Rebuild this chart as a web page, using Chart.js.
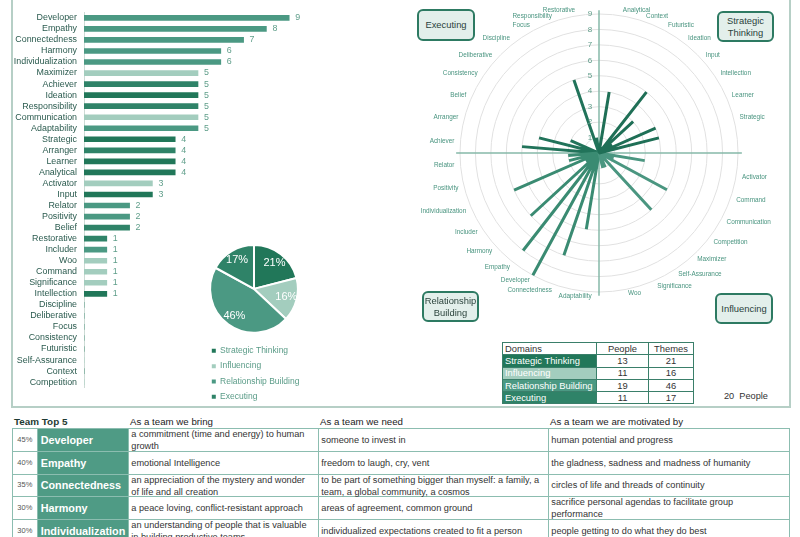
<!DOCTYPE html>
<html><head><meta charset="utf-8">
<script src="https://cdn.jsdelivr.net/npm/chart.js@4"></script>
<style>
body{margin:0;width:800px;height:537px;overflow:hidden;background:#fff;font-family:"Liberation Sans",Arial,sans-serif;position:relative;}
.abs{position:absolute;}
#frame{position:absolute;left:11px;top:-4px;width:780px;height:412px;border:2px solid #b6cfc6;box-sizing:border-box;}
.dbox{position:absolute;border:2px solid #2d7a62;border-radius:6px;background:#e3efeb;display:flex;align-items:center;justify-content:center;text-align:center;font-size:9.4px;color:#2a423b;line-height:11.5px;box-sizing:border-box;}
#dtab{position:absolute;left:502px;top:342px;border-collapse:collapse;font-size:9.4px;color:#333;}
#dtab td{border:1px solid #3a7f6a;height:11.3px;padding:0 2px;line-height:10px;white-space:nowrap;}
#dtab td.num{text-align:center;}
#team{position:absolute;left:12px;top:428px;border-collapse:collapse;table-layout:fixed;width:778px;}
#team td{border:1.5px solid #8cbdb0;padding:0 2px;font-size:9.2px;line-height:12px;color:#333;white-space:pre-line;vertical-align:middle;}
#team td .in{height:21.8px;display:flex;flex-direction:column;justify-content:center;overflow:visible;}
#team td.pct{font-size:7.5px;color:#555;text-align:center;padding:0;}
#team td.pct .in{align-items:center;}
#team td.nm{background:#4f9b85;color:#fff;font-weight:bold;font-size:10.8px;padding-left:3px;white-space:nowrap;}
.hdr{position:absolute;top:416px;font-size:9.7px;color:#222;line-height:11px;}
</style>
</head><body>
<div id="frame"></div>
<canvas id="bars" class="abs" style="left:0;top:0" width="320" height="400"></canvas>
<canvas id="pie" class="abs" style="left:200px;top:236px" width="110" height="175"></canvas>
<canvas id="radar" class="abs" style="left:420px;top:0" width="370" height="330"></canvas>
<div class="dbox" style="left:417px;top:9px;width:58px;height:32px">Executing</div>
<div class="dbox" style="left:717px;top:11px;width:57px;height:31px">Strategic<br>Thinking</div>
<div class="dbox" style="left:422px;top:291px;width:57px;height:31px">Relationship<br>Building</div>
<div class="dbox" style="left:715px;top:293px;width:58px;height:31px">Influencing</div>
<table id="dtab"></table>
<div id="people" class="abs" style="left:724px;top:391px;font-size:9.2px;color:#333;line-height:11px"></div>
<div class="hdr" style="left:14px;font-weight:bold;color:#1e3a32;font-size:9.9px">Team Top 5</div>
<div class="hdr" style="left:130px">As a team we bring</div>
<div class="hdr" style="left:320px">As a team we need</div>
<div class="hdr" style="left:550px">As a team we are motivated by</div>
<table id="team"><colgroup><col style="width:24.7px"><col style="width:91.6px"><col style="width:190px"><col style="width:230px"><col></colgroup><tbody id="teamBody"></tbody></table>
<script>
// ---- data ----
const domains = ['Strategic Thinking', 'Influencing', 'Relationship Building', 'Executing'];
const domainPeople = [13, 11, 19, 11];
const domainThemes = [21, 16, 46, 17];
const teamSize = 20;

const stThemes = ['Analytical', 'Context', 'Futuristic', 'Ideation', 'Input', 'Intellection', 'Learner', 'Strategic'];
const stValues = [4, 0, 0, 5, 3, 1, 4, 4];
const infThemes = ['Activator', 'Command', 'Communication', 'Competition', 'Maximizer', 'Self-Assurance', 'Significance', 'Woo'];
const infValues = [3, 1, 5, 0, 5, 0, 1, 1];
const rbThemes = ['Adaptability', 'Connectedness', 'Developer', 'Empathy', 'Harmony', 'Includer', 'Individualization', 'Positivity', 'Relator'];
const rbValues = [5, 7, 9, 8, 6, 1, 6, 2, 2];
const exThemes = ['Achiever', 'Arranger', 'Belief', 'Consistency', 'Deliberative', 'Discipline', 'Focus', 'Responsibility', 'Restorative'];
const exValues = [5, 4, 2, 0, 0, 0, 0, 5, 1];

const barOrder = ['Developer', 'Empathy', 'Connectedness', 'Harmony', 'Individualization', 'Maximizer', 'Achiever', 'Ideation', 'Responsibility', 'Communication', 'Adaptability', 'Strategic', 'Arranger', 'Learner', 'Analytical', 'Activator', 'Input', 'Relator', 'Positivity', 'Belief', 'Restorative', 'Includer', 'Woo', 'Command', 'Significance', 'Intellection', 'Discipline', 'Deliberative', 'Focus', 'Consistency', 'Futuristic', 'Self-Assurance', 'Context', 'Competition'];
const radialTicks = [1, 2, 3, 4, 5, 6, 7, 8, 9];

const top5Names = ['Developer', 'Empathy', 'Connectedness', 'Harmony', 'Individualization'];
const top5Bring = ['a commitment (time and energy) to human\ngrowth', 'emotional Intelligence', 'an appreciation of the mystery and wonder\nof life and all creation', 'a peace loving, conflict-resistant approach', 'an understanding of people that is valuable\nin building productive teams'];
const top5Need = ['someone to invest in', 'freedom to laugh, cry, vent', 'to be part of something bigger than myself: a family, a\nteam, a global community, a cosmos', 'areas of agreement, common ground', 'individualized expectations created to fit a person'];
const top5Motivated = ['human potential and progress', 'the gladness, sadness and madness of humanity', 'circles of life and threads of continuity', 'sacrifice personal agendas to facilitate group\nperformance', 'people getting to do what they do best'];

// ---- styles ----
const FONT = '"Liberation Sans", Arial, sans-serif';
Chart.defaults.font.family = FONT;
const domainColors = ['#217759', '#a3cdbe', '#4b9983', '#2f8368'];
const radarColors = ['#1f6f56', '#4a9680', '#3a8b72', '#21735a'];

const themeLists = [stThemes, infThemes, rbThemes, exThemes];
const valueLists = [stValues, infValues, rbValues, exValues];
const lookup = {};
themeLists.forEach((list, d) => list.forEach((t, i) => { lookup[t] = { d: d, v: valueLists[d][i] }; }));

// ---- bar chart ----
const barValuePlugin = {
  id: 'barValues',
  afterDatasetsDraw(chart) {
    const ctx = chart.ctx;
    const meta = chart.getDatasetMeta(0);
    ctx.save();
    ctx.font = '8.9px ' + FONT;
    ctx.fillStyle = '#5f9e8a';
    ctx.textBaseline = 'middle';
    ctx.textAlign = 'left';
    meta.data.forEach((bar, i) => {
      const v = chart.data.datasets[0].data[i];
      if (v > 0) ctx.fillText(String(v), bar.x + 6, bar.y);
    });
    ctx.restore();
  }
};
new Chart(document.getElementById('bars'), {
  type: 'bar',
  data: {
    labels: barOrder,
    datasets: [{
      data: barOrder.map(t => lookup[t].v),
      backgroundColor: barOrder.map(t => domainColors[lookup[t].d]),
      barThickness: 5
    }]
  },
  options: {
    indexAxis: 'y', responsive: false, animation: false,
    layout: { padding: { top: 5, bottom: 4, right: 8, left: 0 } },
    plugins: { legend: { display: false }, tooltip: { enabled: false } },
    scales: {
      x: { display: false, min: 0, max: 10 },
      y: {
        grid: { display: false, drawTicks: false },
        border: { color: '#cddbd5', width: 1 },
        ticks: { font: { size: 8.9 }, color: '#2b5b4f', padding: 7, autoSkip: false },
        afterFit: s => { s.width = 84; }
      }
    }
  },
  plugins: [barValuePlugin]
});

// ---- pie chart ----
const themeTotal = domainThemes.reduce((a, b) => a + b, 0);
const piePctPlugin = {
  id: 'piePct',
  afterDatasetsDraw(chart) {
    const ctx = chart.ctx;
    const meta = chart.getDatasetMeta(0);
    ctx.save();
    ctx.font = '11px ' + FONT;
    ctx.fillStyle = '#ffffff';
    ctx.textAlign = 'center';
    ctx.textBaseline = 'middle';
    meta.data.forEach((arc, i) => {
      const p = arc.getProps(['x', 'y', 'startAngle', 'endAngle', 'outerRadius'], true);
      const mid = (p.startAngle + p.endAngle) / 2;
      const r = p.outerRadius * 0.76;
      const pct = Math.round(domainThemes[i] / themeTotal * 100);
      ctx.fillText(pct + '%', p.x + Math.cos(mid) * r, p.y + Math.sin(mid) * r);
    });
    ctx.restore();
  }
};
new Chart(document.getElementById('pie'), {
  type: 'pie',
  data: {
    labels: domains,
    datasets: [{ data: domainThemes, backgroundColor: domainColors, borderColor: '#ffffff', borderWidth: 2 }]
  },
  options: {
    responsive: false, animation: false,
    layout: { padding: { left: 5, right: 7, top: 8, bottom: 0 } },
    plugins: {
      tooltip: { enabled: false },
      legend: {
        position: 'bottom', align: 'start',
        title: { display: true, text: '', font: { size: 5 }, padding: 0 },
        labels: {
          usePointStyle: true, pointStyle: 'rect', boxWidth: 4, boxHeight: 4,
          font: { size: 8.5 }, color: '#5b9c88', padding: 6.8,
          generateLabels(chart) {
            return chart.data.labels.map((l, i) => ({
              text: l, fillStyle: domainColors[i], strokeStyle: domainColors[i], lineWidth: 0,
              pointStyle: 'rect', fontColor: '#5b9c88', hidden: false, index: i
            }));
          }
        }
      }
    }
  },
  plugins: [piePctPlugin]
});

// ---- radar (spokes) ----
const SLOTS = 76;
const domainSlotStart = [2, 21, 40, 58];
const radarLabels = new Array(SLOTS).fill('');
const radarDatasets = themeLists.map((list, d) => {
  const data = new Array(SLOTS).fill(0);
  list.forEach((t, i) => {
    const s = domainSlotStart[d] + 2 * i;
    radarLabels[s] = t;
    data[s] = valueLists[d][i];
  });
  return { data: data, borderColor: radarColors[d], borderWidth: 3, fill: false, pointRadius: 0, borderJoinStyle: 'bevel', tension: 0 };
});
const radarDecor = {
  id: 'radarDecor',
  beforeDatasetsDraw(chart) {
    const s = chart.scales.r;
    const ctx = chart.ctx;
    ctx.save();
    ctx.strokeStyle = '#86b9a9';
    ctx.lineWidth = 1.5;
    [0, 19, 38, 57].forEach(idx => {
      const p = s.getPointPositionForValue(idx, 9.25);
      ctx.beginPath();
      ctx.moveTo(s.xCenter, s.yCenter);
      ctx.lineTo(p.x, p.y);
      ctx.stroke();
    });
    ctx.restore();
  },
  afterDraw(chart) {
    const s = chart.scales.r;
    const ctx = chart.ctx;
    ctx.save();
    ctx.font = '8px ' + FONT;
    ctx.fillStyle = '#5d9b88';
    ctx.textAlign = 'center';
    ctx.textBaseline = 'middle';
    radialTicks.forEach(v => {
      const d = s.getDistanceFromCenterForValue(v);
      ctx.fillText(String(v), s.xCenter - 9, s.yCenter - d);
    });
    ctx.font = '6.4px ' + FONT;
    ctx.fillStyle = '#4a9580';
    radarLabels.forEach((lab, i) => {
      if (!lab) return;
      const p = s.getPointPosition(i, s.drawingArea + 6);
      const deg = i * 360 / SLOTS;
      let align = 'left';
      if (deg > 180) align = 'right';
      if (deg > 165 && deg < 195) align = 'center';
      ctx.textAlign = align;
      ctx.fillText(lab, p.x, p.y);
    });
    ctx.restore();
  }
};
new Chart(document.getElementById('radar'), {
  type: 'radar',
  data: { labels: radarLabels, datasets: radarDatasets },
  options: {
    responsive: false, animation: false,
    layout: { padding: { left: 40, right: 52, top: 14, bottom: 38 } },
    plugins: { legend: { display: false }, tooltip: { enabled: false } },
    elements: { line: { tension: 0 } },
    scales: {
      r: {
        min: 0, max: 9, startAngle: 0,
        ticks: { display: false, stepSize: 1 },
        pointLabels: { display: false },
        angleLines: { display: false },
        grid: { circular: true, color: '#e1e1e1', lineWidth: 1 }
      }
    }
  },
  plugins: [radarDecor]
});

// ---- domains table ----
(function () {
  const t = document.getElementById('dtab');
  let html = '<tr><td style="width:89px">Domains</td><td class="num" style="width:47px">People</td><td class="num" style="width:40px">Themes</td></tr>';
  domains.forEach((d, i) => {
    html += '<tr><td style="background:' + domainColors[i] + ';color:#fff">' + d + '</td><td class="num">' + domainPeople[i] + '</td><td class="num">' + domainThemes[i] + '</td></tr>';
  });
  t.innerHTML = html;
  document.getElementById('people').innerHTML = teamSize + '&nbsp; People';
})();

// ---- team top 5 table ----
(function () {
  const tb = document.getElementById('teamBody');
  top5Names.forEach((n, i) => {
    const tr = document.createElement('tr');
    const cells = [
      [Math.round(lookup[n].v / teamSize * 100) + '%', 'pct'],
      [n, 'nm'],
      [top5Bring[i], ''],
      [top5Need[i], ''],
      [top5Motivated[i], '']
    ];
    cells.forEach(c => {
      const td = document.createElement('td');
      const inner = document.createElement('div');
      inner.className = 'in';
      inner.textContent = c[0];
      td.appendChild(inner);
      if (c[1]) td.className = c[1];
      tr.appendChild(td);
    });
    tb.appendChild(tr);
  });
})();
</script>
</body></html>
